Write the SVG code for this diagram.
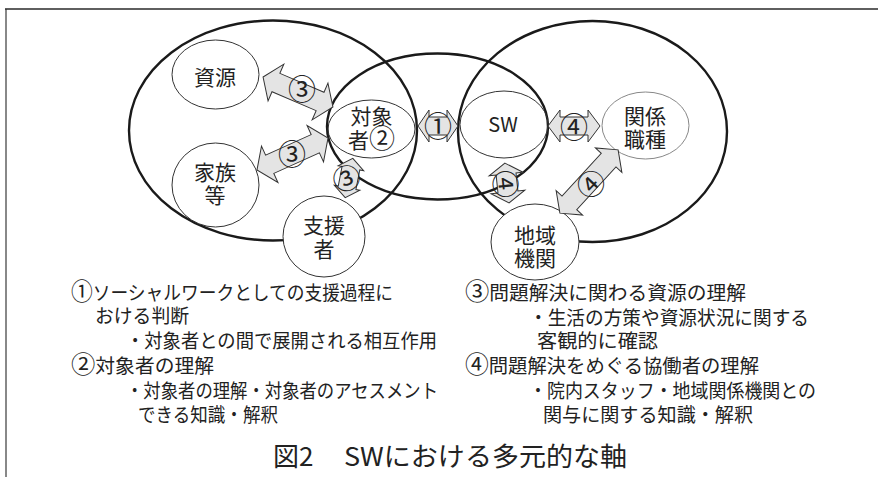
<svg xmlns="http://www.w3.org/2000/svg" width="879" height="477" viewBox="0 0 879 477">
<defs>
<style>
.t{font-family:"Noto Sans CJK JP","Noto Sans",sans-serif;fill:#222;}
.big{fill:none;stroke:#1a1a1a;stroke-width:2.4;}
.sm{fill:#fff;stroke:#333;stroke-width:1;}
.smn{fill:none;stroke:#333;stroke-width:1;}
.arr{fill:#e4e4e4;stroke:#333;stroke-width:1;}
.lab{font-size:21px;text-anchor:middle;}
.num{font-size:28px;text-anchor:middle;dominant-baseline:central;}
.body{font-size:19.5px;}
.cn{font-size:24px;}
</style>
</defs>
<rect width="879" height="477" fill="#fff"/>
<path d="M6,477 V9" stroke="#888" stroke-width="2" fill="none"/>
<path d="M5,9 H878" stroke="#2a2a2a" stroke-width="1.6" fill="none"/>

<g id="outer-left"><ellipse class="big" cx="273" cy="130.5" rx="144" ry="110"/></g>
<g id="outer-middle"><ellipse class="big" cx="437.5" cy="126.5" rx="110.5" ry="73"/></g>
<g id="outer-right"><ellipse class="big" cx="592.5" cy="131.5" rx="134.5" ry="110.5"/></g>

<g id="node-shigen"><ellipse class="sm" cx="215.5" cy="74.5" rx="43.5" ry="34.5"/><text class="t lab" x="215" y="84.5">資源</text></g>
<g id="node-kazoku"><ellipse class="sm" cx="215.5" cy="185" rx="43.5" ry="42"/><text class="t lab" x="215" y="179.5">家族<tspan x="215" dy="23">等</tspan></text></g>
<g id="node-shiensha"><ellipse class="sm" cx="324" cy="236.5" rx="41" ry="40.5"/><text class="t lab" x="324" y="233">支援<tspan x="324" dy="24">者</tspan></text></g>
<g id="node-taishosha"><ellipse class="smn" cx="371.5" cy="129" rx="43.5" ry="29"/><text class="t lab" x="371.5" y="124">対象<tspan x="371.5" dy="23.5">者<tspan style="font-size:26px">②</tspan></tspan></text></g>
<g id="node-sw"><ellipse class="smn" cx="504" cy="124.5" rx="44" ry="33.5"/><text class="t lab" x="503" y="132" style="font-size:20px">SW</text></g>
<g id="node-kankei"><ellipse class="sm" cx="645.5" cy="125.5" rx="43.5" ry="33.5" style="stroke:#888"/><text class="t lab" x="645" y="124">関係<tspan x="645" dy="23">職種</tspan></text></g>
<g id="node-chiiki"><ellipse class="sm" cx="535" cy="242" rx="44" ry="38"/><text class="t lab" x="535" y="242.5">地域<tspan x="535" dy="23">機関</tspan></text></g>

<g id="connectors">
<g transform="translate(298,92) rotate(23.2)"><polygon class="arr" points="-38,0 -24,-20 -24,-10 24,-10 24,-20 38,0 24,20 24,10 -24,10 -24,20"/></g>
<text class="t num" x="302" y="88">③</text>
<g transform="translate(292.5,154) rotate(-24.3)"><polygon class="arr" points="-39,0 -25,-20 -25,-10 25,-10 25,-20 39,0 25,20 25,10 -25,10 -25,20"/></g>
<text class="t num" x="292" y="153">③</text>
<g transform="translate(349,178) rotate(101)"><polygon class="arr" points="-20,0 -10,-13 -10,-9 10,-9 10,-13 20,0 10,13 10,9 -10,9 -10,13"/></g>
<text class="t num" x="346" y="177" transform="rotate(-20 346 177)">③</text>
<g transform="translate(438,126)"><polygon class="arr" points="-20,0 -9,-16 -9,-9 9,-9 9,-16 20,0 9,16 9,9 -9,9 -9,16"/></g>
<text class="t num" x="438" y="125">①</text>
<g transform="translate(574,126)"><polygon class="arr" points="-26,0 -14,-16 -14,-9 14,-9 14,-16 26,0 14,16 14,9 -14,9 -14,16"/></g>
<text class="t num" x="574" y="126">④</text>
<g transform="translate(507,183) rotate(84)"><polygon class="arr" points="-20,0 -9,-17 -9,-10 9,-10 9,-17 20,0 9,17 9,10 -9,10 -9,17"/></g>
<text class="t num" x="507" y="184" transform="rotate(84 507 184)">④</text>
<g transform="translate(589,181.5) rotate(132.6)"><polygon class="arr" points="-43,0 -29,-18 -29,-10 29,-10 29,-18 43,0 29,18 29,10 -29,10 -29,18"/></g>
<text class="t num" x="590" y="183" transform="rotate(-47 590 183)">④</text>
</g>

<g id="legend-left" class="t body">
<text x="71" y="300" textLength="322" lengthAdjust="spacingAndGlyphs"><tspan class="cn">①</tspan>ソーシャルワークとしての支援過程に</text>
<text x="95" y="323" textLength="94" lengthAdjust="spacingAndGlyphs">おける判断</text>
<text x="126" y="348" textLength="311" lengthAdjust="spacingAndGlyphs">・対象者との間で展開される相互作用</text>
<text x="71" y="373" textLength="143" lengthAdjust="spacingAndGlyphs"><tspan class="cn">②</tspan>対象者の理解</text>
<text x="126" y="398" textLength="312" lengthAdjust="spacingAndGlyphs">・対象者の理解・対象者のアセスメント</text>
<text x="138" y="422" textLength="140" lengthAdjust="spacingAndGlyphs">できる知識・解釈</text>
</g>
<g id="legend-right" class="t body">
<text x="465" y="300" textLength="281" lengthAdjust="spacingAndGlyphs"><tspan class="cn">③</tspan>問題解決に関わる資源の理解</text>
<text x="529" y="325" textLength="280" lengthAdjust="spacingAndGlyphs">・生活の方策や資源状況に関する</text>
<text x="537" y="348" textLength="121" lengthAdjust="spacingAndGlyphs">客観的に確認</text>
<text x="465" y="373" textLength="294" lengthAdjust="spacingAndGlyphs"><tspan class="cn">④</tspan>問題解決をめぐる協働者の理解</text>
<text x="529" y="398" textLength="287" lengthAdjust="spacingAndGlyphs">・院内スタッフ・地域関係機関との</text>
<text x="543" y="422" textLength="210" lengthAdjust="spacingAndGlyphs">関与に関する知識・解釈</text>
</g>
<g id="title">
<text class="t" x="273" y="466" style="font-size:26px">図2</text>
<text class="t" x="344" y="466" style="font-size:26px" textLength="283" lengthAdjust="spacingAndGlyphs">SWにおける多元的な軸</text>
</g>
</svg>
